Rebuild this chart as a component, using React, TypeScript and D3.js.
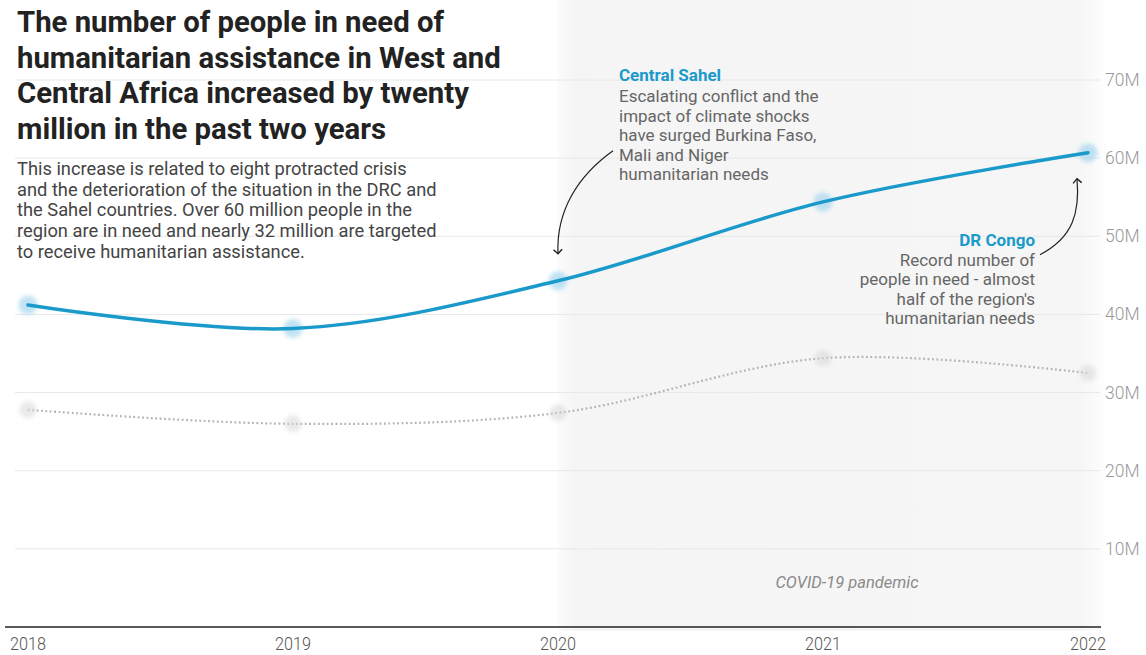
import React from "react";
import * as d3 from "d3";

const years = [2018, 2019, 2020, 2021, 2022];
const inNeed = [41.2, 38.2, 44.3, 54.4, 60.7];
const targeted = [27.8, 26.0, 27.4, 34.4, 32.5];
const yTicks = [10, 20, 30, 40, 50, 60, 70];
const yTickLabels = ["10M", "20M", "30M", "40M", "50M", "60M", "70M"];

const titleLines = [
  "The number of people in need of",
  "humanitarian assistance in West and",
  "Central Africa increased by twenty",
  "million in the past two years",
];
const subtitleLines = [
  "This increase is related to eight protracted crisis",
  "and the deterioration of the situation in the DRC and",
  "the Sahel countries. Over 60 million people in the",
  "region are in need and nearly 32 million are targeted",
  "to receive humanitarian assistance.",
];
const sahelTitle = "Central Sahel";
const sahelLines = [
  "Escalating conflict and the",
  "impact of climate shocks",
  "have surged Burkina Faso,",
  "Mali and Niger",
  "humanitarian needs",
];
const drcTitle = "DR Congo";
const drcLines = [
  "Record number of",
  "people in need - almost",
  "half of the region's",
  "humanitarian needs",
];

const W = 1146;
const H = 655;
const BLUE = "#1a9acb";
const FONT = "Roboto, 'Noto Sans', sans-serif";

export default function App() {
  const x = d3.scaleLinear().domain([2018, 2022]).range([28, 1088]);
  const y = d3.scaleLinear().domain([0, 70]).range([627, 80]);
  const line = d3
    .line<number>()
    .x((_, i) => x(years[i]))
    .y((d) => y(d))
    .curve(d3.curveCatmullRom.alpha(0.5));

  const p2020 = [x(2020), y(inNeed[2])];
  const p2022 = [x(2022), y(inNeed[4])];

  const sahelArrow = `M${p2020[0] + 55},${p2020[1] - 130} C${p2020[0] + 20},${p2020[1] - 105} ${p2020[0] - 2},${p2020[1] - 70} ${p2020[0]},${p2020[1] - 27}`;
  const drcArrow = `M${p2022[0] - 48},${p2022[1] + 102} C${p2022[0] - 15},${p2022[1] + 85} ${p2022[0] - 8},${p2022[1] + 60} ${p2022[0] - 11},${p2022[1] + 26}`;

  return (
    <svg
      width={W}
      height={H}
      style={{ position: "absolute", left: 0, top: 0, background: "#fff" }}
      fontFamily={FONT}
    >
      <defs>
        <linearGradient id="covid" x1="0" x2="1" y1="0" y2="0">
          <stop offset="0" stopColor="#f5f5f5" stopOpacity="0.4" />
          <stop offset="0.03" stopColor="#f5f5f5" stopOpacity="1" />
          <stop offset="0.95" stopColor="#f6f6f6" stopOpacity="1" />
          <stop offset="1" stopColor="#f6f6f6" stopOpacity="0" />
        </linearGradient>
        <filter id="blur" x="-1" y="-1" width="3" height="3">
          <feGaussianBlur stdDeviation="2.2" />
        </filter>
        <marker id="arrow" viewBox="0 0 10 10" refX="5" refY="5" markerWidth="9" markerHeight="9" orient="auto-start-reverse">
          <path d="M1,1 L5,5 L1,9" fill="none" stroke="#222" strokeWidth="1.3" />
        </marker>
      </defs>

      <rect x={x(2020)} y={0} width={x(2022) - x(2020) + 20} height={y(0) + 4} fill="url(#covid)" />

      {yTicks.map((t, i) => (
        <g key={t}>
          <line x1={15} x2={1100} y1={y(t)} y2={y(t)} stroke="#e8e8e8" strokeWidth={1} />
          <text x={1105} y={y(t) + 6} fontSize={17.5} fontWeight={300} fill="#999">
            {yTickLabels[i]}
          </text>
        </g>
      ))}

      <text x={847} y={588} fontSize={16.5} fontStyle="italic" fill="#8a8a8a" textAnchor="middle">
        COVID-19 pandemic
      </text>

      <path d={line(targeted) || ""} fill="none" stroke="#b3b3b3" strokeWidth={2.2} strokeDasharray="1.8 2.6" />
      {targeted.map((v, i) => (
        <circle key={"t" + i} cx={x(years[i])} cy={y(v)} r={8.5} fill="#d8d8d8" opacity={0.55} filter="url(#blur)" />
      ))}

      {inNeed.map((v, i) => (
        <circle key={"n" + i} cx={x(years[i])} cy={y(v)} r={9.5} fill="#a6d6ee" opacity={0.7} filter="url(#blur)" />
      ))}
      <path d={line(inNeed) || ""} fill="none" stroke={BLUE} strokeWidth={3.5} strokeLinecap="round" />

      <line x1={5} x2={1101} y1={y(0)} y2={y(0)} stroke="#222" strokeWidth={1.5} />
      {years.map((yr) => (
        <text
          key={yr}
          x={x(yr)}
          y={650}
          fontSize={18}
          fontWeight={300}
          fill="#555"
          textAnchor="middle"
          textLength={36}
          lengthAdjust="spacingAndGlyphs"
        >
          {yr}
        </text>
      ))}

      <text fontSize={29.3} fontWeight={700} fill="#222">
        {titleLines.map((l, i) => (
          <tspan key={i} x={17} y={32 + i * 35.6}>
            {l}
          </tspan>
        ))}
      </text>
      <text fontSize={18.3} fill="#444">
        {subtitleLines.map((l, i) => (
          <tspan key={i} x={17} y={175 + i * 20.7}>
            {l}
          </tspan>
        ))}
      </text>

      <text x={619} y={81} fontSize={17} fontWeight={700} fill={BLUE}>
        {sahelTitle}
      </text>
      <text fontSize={17} fill="#666">
        {sahelLines.map((l, i) => (
          <tspan key={i} x={619} y={102 + i * 19.5}>
            {l}
          </tspan>
        ))}
      </text>
      <path d={sahelArrow} fill="none" stroke="#222" strokeWidth={1.2} markerEnd="url(#arrow)" />

      <text x={1035} y={246} fontSize={17} fontWeight={700} fill={BLUE} textAnchor="end">
        {drcTitle}
      </text>
      <text fontSize={17} fill="#666" textAnchor="end">
        {drcLines.map((l, i) => (
          <tspan key={i} x={1035} y={266 + i * 19.3}>
            {l}
          </tspan>
        ))}
      </text>
      <path d={drcArrow} fill="none" stroke="#222" strokeWidth={1.2} markerEnd="url(#arrow)" />
    </svg>
  );
}
